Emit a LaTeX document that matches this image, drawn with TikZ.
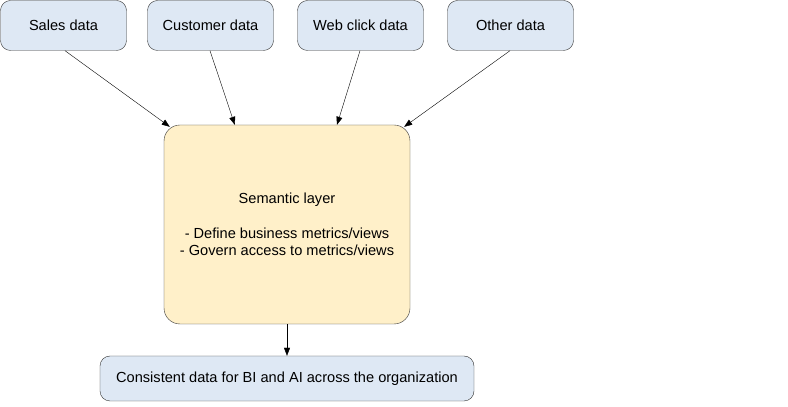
\documentclass[tikz,border=0pt]{standalone}
\usepackage{fontspec}
\setmainfont{Liberation Sans}
\usetikzlibrary{arrows.meta}
\definecolor{srcblue}{HTML}{DEE8F4}
\definecolor{semyellow}{HTML}{FFF0C9}
\definecolor{edgegrey}{HTML}{333333}
\begin{document}
\begin{tikzpicture}[x=1pt,y=1pt,
  src/.style={draw=edgegrey,fill=srcblue,rounded corners=10pt,minimum width=126pt,minimum height=50pt,font=\fontsize{14.6}{17}\selectfont,inner sep=0pt},
  feed/.style={-{Triangle[length=8pt,width=6pt]},draw=black}]
\useasboundingbox (0,0) rectangle (788,407);
\node[src] (sales) at (63.5,381.5) {Sales data};
\node[src] (cust) at (210.5,381.5) {Customer data};
\node[src] (web) at (360.5,381.5) {Web click data};
\node[src] (other) at (510.5,381.5) {Other data};
\node[draw=edgegrey,fill=semyellow,rounded corners=16pt,minimum width=246pt,minimum height=199pt,align=center,font=\fontsize{14.6}{17}\selectfont] (sem) at (287,182.5) {Semantic layer\\[18pt]- Define business metrics/views\\- Govern access to metrics/views};
\node[src,minimum width=374pt,minimum height=45pt] (out) at (287,28.5) {Consistent data for BI and AI across the organization};
\draw[feed] ([xshift=1.5pt]sales.south) -- ([xshift=6pt,yshift=-2pt]sem.north west);
\draw[feed] ([xshift=-0.5pt]cust.south) -- ([xshift=71pt]sem.north west);
\draw[feed] ([xshift=-0.5pt]web.south) -- ([xshift=50pt]sem.north);
\draw[feed] ([xshift=-0.5pt]other.south) -- ([xshift=-6pt,yshift=-2pt]sem.north east);
\draw[feed] (sem.south) -- (out.north);
\end{tikzpicture}
\end{document}
